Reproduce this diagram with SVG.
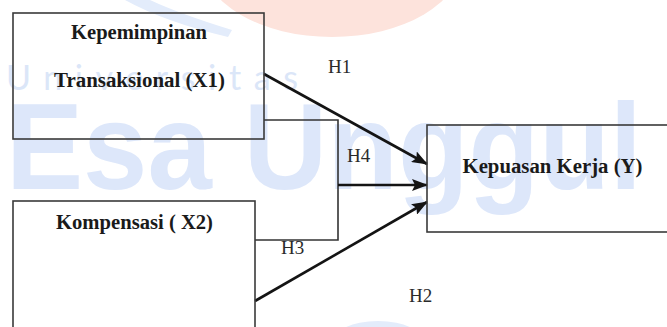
<svg xmlns="http://www.w3.org/2000/svg" width="667" height="327" viewBox="0 0 667 327">
  <defs>
    <style>
      .box { fill: none; stroke: #3a3a3a; stroke-width: 1.6; }
      .lbl { font-family: "Liberation Serif", "Times New Roman", serif; font-weight: bold; font-size: 20px; fill: #1a1a1a; }
      .hl { font-family: "Liberation Serif", "Times New Roman", serif; font-size: 19px; fill: #2a2a2a; }
      .arrow { fill: none; stroke: #141414; stroke-width: 2.6; marker-end: url(#ah); }
      .plain { fill: none; stroke: #333; stroke-width: 1.6; }
      .wm { fill: #dde7fa; }
    </style>
    <marker id="ah" markerUnits="userSpaceOnUse" markerWidth="16" markerHeight="12" refX="15" refY="6" orient="auto">
      <path d="M0,0 L16,6 L0,12 L3,6 Z" fill="#141414"/>
    </marker>
  </defs>

  <rect width="667" height="327" fill="#ffffff"/>

  <!-- watermark -->
  <g id="watermark">
    <ellipse cx="332" cy="-40" rx="130" ry="77" fill="#fde3dc"/>
    <path d="M125,0 Q165,22 228,37 L232,30 Q180,14 150,0 Z" fill="#e3ecfb"/>
    <ellipse cx="378" cy="345" rx="48" ry="24" fill="#e3ecfb"/>
    <text x="6" y="90" font-family="Lato, 'Liberation Sans', sans-serif" font-size="34" fill="#dbe6f8" textLength="292" lengthAdjust="spacing">Universitas</text>
    <text x="6" y="189" class="wm" font-family="'Liberation Sans', Arial, sans-serif" font-weight="bold" font-size="123" textLength="636" lengthAdjust="spacingAndGlyphs">Esa Unggul</text>
  </g>

  <g id="connectors">
    <polyline class="plain" points="264,120 338,120 338,240 255,240"/>
    <line class="arrow" x1="338" y1="185" x2="427" y2="185"/>
    <line class="arrow" x1="264" y1="74" x2="427" y2="164"/>
    <line class="arrow" x1="255" y1="301" x2="427" y2="202"/>
    <text class="hl" x="328" y="73">H1</text>
    <text class="hl" x="347" y="162">H4</text>
    <text class="hl" x="281" y="254">H3</text>
    <text class="hl" x="409" y="302">H2</text>
  </g>

  <g id="x1">
    <rect class="box" x="13" y="13" width="251" height="126"/>
    <text class="lbl" x="139" y="39" text-anchor="middle" textLength="136" lengthAdjust="spacingAndGlyphs">Kepemimpinan</text>
    <text class="lbl" x="139.5" y="87" text-anchor="middle" textLength="171" lengthAdjust="spacingAndGlyphs">Transaksional (X1)</text>
  </g>

  <g id="x2">
    <rect class="box" x="13" y="201" width="242" height="140"/>
    <text class="lbl" x="134.5" y="229" text-anchor="middle" textLength="157" lengthAdjust="spacingAndGlyphs">Kompensasi ( X2)</text>
  </g>

  <g id="y">
    <rect class="box" x="427" y="125" width="260" height="107"/>
    <text class="lbl" x="552.5" y="173" text-anchor="middle" textLength="180" lengthAdjust="spacingAndGlyphs">Kepuasan Kerja (Y)</text>
  </g>
</svg>
